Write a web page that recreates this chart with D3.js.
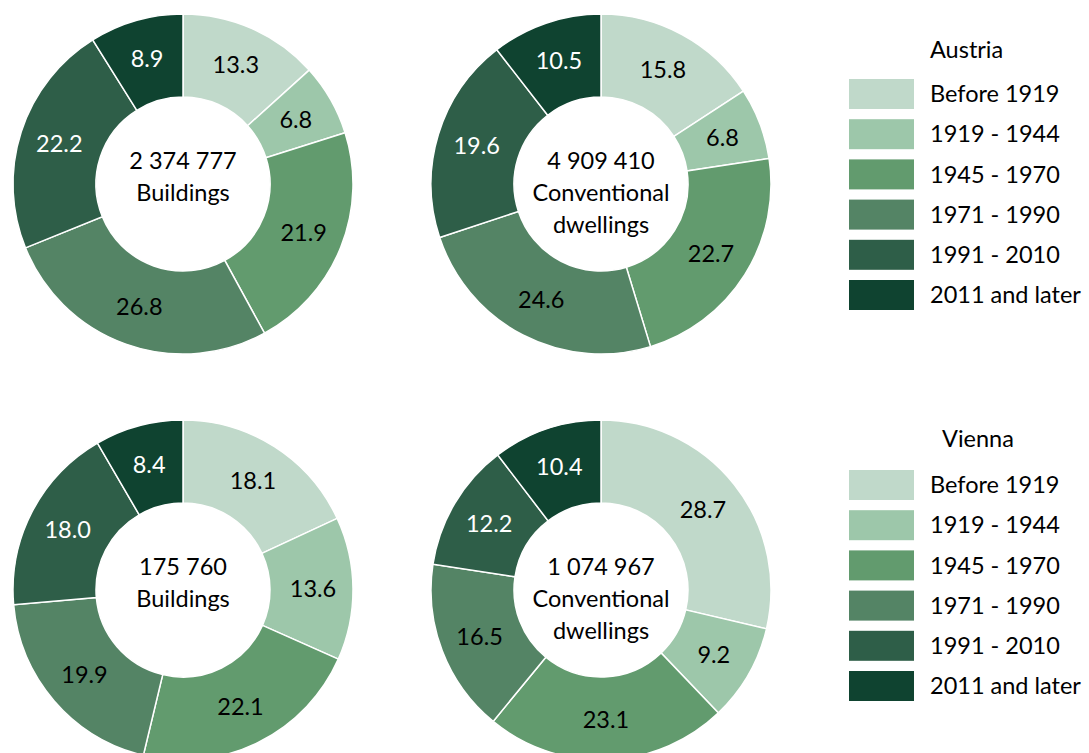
<!DOCTYPE html>
<html>
<head>
<meta charset="utf-8">
<script src="https://cdn.jsdelivr.net/npm/d3@7"></script>
<style>
  body { margin: 0; background: #fff; }
  svg text { font-family: Lato, "Open Sans", sans-serif; }
</style>
</head>
<body>
<svg id="chart" width="1089" height="753"></svg>
<script>
const categories = ["Before 1919", "1919 - 1944", "1945 - 1970", "1971 - 1990", "1991 - 2010", "2011 and later"];
const colors = ["#c0d9ca", "#9dc7aa", "#629b6e", "#548465", "#2e5e48", "#0f4330"];
const labelColors = ["#000", "#000", "#000", "#000", "#fff", "#fff"];

const austriaBuildings = [13.3, 6.8, 21.9, 26.8, 22.2, 8.9];
const austriaDwellings = [15.8, 6.8, 22.7, 24.6, 19.6, 10.5];
const viennaBuildings = [18.1, 13.6, 22.1, 19.9, 18.0, 8.4];
const viennaDwellings = [28.7, 9.2, 23.1, 16.5, 12.2, 10.4];

const centerTexts = [
  ["2 374 777", "Buildings"],
  ["4 909 410", "Conventional", "dwellings"],
  ["175 760", "Buildings"],
  ["1 074 967", "Conventional", "dwellings"]
];
const legendTitles = ["Austria", "Vienna"];

const svg = d3.select("#chart");
const outerR = 170, innerR = 87, labelR = 130;
const fontSize = 23.5;

const charts = [
  { values: austriaBuildings, cx: 183, cy: 184, text: centerTexts[0] },
  { values: austriaDwellings, cx: 601, cy: 184, text: centerTexts[1] },
  { values: viennaBuildings, cx: 183, cy: 590, text: centerTexts[2] },
  { values: viennaDwellings, cx: 601, cy: 590, text: centerTexts[3] }
];

const pie = d3.pie().sort(null).value(d => d);
const arc = d3.arc().innerRadius(innerR).outerRadius(outerR);
const labelArc = d3.arc().innerRadius(labelR).outerRadius(labelR);

charts.forEach(c => {
  const g = svg.append("g").attr("transform", `translate(${c.cx},${c.cy})`);
  const arcs = pie(c.values);
  g.selectAll("path").data(arcs).join("path")
    .attr("d", arc)
    .attr("fill", (d, i) => colors[i])
    .attr("stroke", "#fff")
    .attr("stroke-width", 1.5);
  g.selectAll("text.lbl").data(arcs).join("text")
    .attr("class", "lbl")
    .attr("transform", d => `translate(${labelArc.centroid(d)})`)
    .attr("text-anchor", "middle")
    .attr("dy", "0.35em")
    .attr("font-size", fontSize)
    .attr("fill", (d, i) => labelColors[i])
    .text(d => d.data.toFixed(1));
  const lh = 32;
  c.text.forEach((t, i) => {
    g.append("text")
      .attr("text-anchor", "middle")
      .attr("y", -15 + i * lh)
      .attr("font-size", fontSize)
      .attr("fill", "#000")
      .text(t);
  });
});

// Legends
const legendTops = [79, 470];
const titleBaselines = [58, 447];
const titleX = [930, 942];
legendTitles.forEach((title, li) => {
  const lg = svg.append("g");
  lg.append("text")
    .attr("x", titleX[li])
    .attr("y", titleBaselines[li])
    .attr("font-size", fontSize)
    .attr("fill", "#000")
    .text(title);
  categories.forEach((cat, i) => {
    const y = legendTops[li] + i * 40.2;
    lg.append("rect")
      .attr("x", 849).attr("y", y)
      .attr("width", 65).attr("height", 30)
      .attr("fill", colors[i]);
    lg.append("text")
      .attr("x", 930).attr("y", y + 15)
      .attr("dy", "0.35em")
      .attr("font-size", fontSize)
      .attr("fill", "#000")
      .text(cat);
  });
});
</script>
</body>
</html>
